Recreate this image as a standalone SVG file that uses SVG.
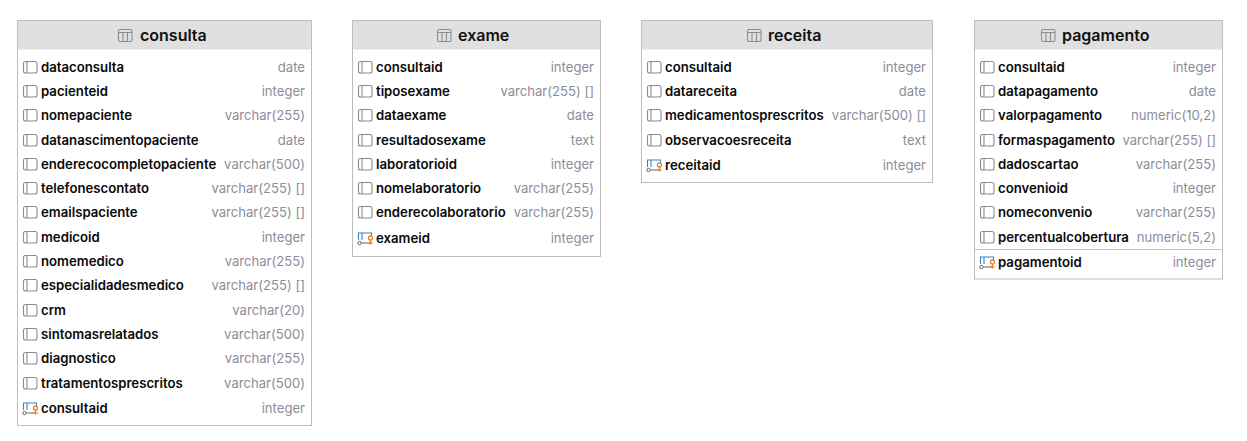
<svg xmlns="http://www.w3.org/2000/svg" width="1247" height="441" viewBox="0 0 1247 441">
<style>
text{font-family:Inter,"Liberation Sans",sans-serif}
.box{fill:#fff;stroke:#bdbdbd;stroke-width:1}
.head{fill:#e0e0e0}
.title{font-size:16px;font-weight:600;fill:#111;}
.n{font-size:13.2px;font-weight:600;fill:#0a0a0a}
.t{font-size:13.1px;font-weight:400;fill:#8d8d99;text-anchor:end}
.ic{fill:none;stroke:#878c95;stroke-width:1.1}
.blue{fill:none;stroke:#3b82c4;stroke-width:1.1}
.dark{fill:none;stroke:#666;stroke-width:1}
.or{fill:none;stroke:#e8832a;stroke-width:1.3}
.div{stroke:#c4c4c4;stroke-width:1}
</style>
<defs>
<g id="col"><rect class="ic" x="-16.500" y="-5.500" width="13.500" height="11.500" rx="2"/><path class="ic" d="M-13-5.500v11.500"/></g>
<g id="pk"><path class="blue" d="M-16.500 2V-5H-3.500V-2M-13-5V2"/><circle class="dark" cx="-15.500" cy="5" r="1.700"/><path class="dark" d="M-13.500 5H-6"/><circle class="or" cx="-4.500" cy="0" r="2"/><path class="or" d="M-4.500 2V6.500M-4.500 5H-2.500M-7 5H-4.500"/></g>
<g id="tb"><rect class="ic" x="-6.500" y="-5.500" width="13.500" height="12" rx="1.500"/><path class="ic" d="M-6.500-2.500H7M-2-2.500V6.500M2.500-2.500V6.500"/></g>
</defs>
<g id="connectors"/>

<g id="consulta">
<rect class="box" x="17.500" y="20.500" width="294" height="405"/><rect class="head" x="18" y="21" width="293" height="28.500"/>
<use href="#tb" x="125" y="35"/><text class="title" x="140" y="40.500">consulta</text>
<use href="#col" x="40" y="67"/><text class="n" x="41" y="71.500">dataconsulta</text><text class="t" x="305" y="71.500">date</text>
<use href="#col" x="40" y="91"/><text class="n" x="41" y="95.500">pacienteid</text><text class="t" x="305" y="95.500">integer</text>
<use href="#col" x="40" y="115"/><text class="n" x="41" y="119.500">nomepaciente</text><text class="t" x="305" y="119.500">varchar(255)</text>
<use href="#col" x="40" y="140"/><text class="n" x="41" y="144.500">datanascimentopaciente</text><text class="t" x="305" y="144.500">date</text>
<use href="#col" x="40" y="164"/><text class="n" x="41" y="168.500">enderecocompletopaciente</text><text class="t" x="305" y="168.500">varchar(500)</text>
<use href="#col" x="40" y="188"/><text class="n" x="41" y="192.500">telefonescontato</text><text class="t" x="305" y="192.500">varchar(255) []</text>
<use href="#col" x="40" y="212"/><text class="n" x="41" y="216.500">emailspaciente</text><text class="t" x="305" y="216.500">varchar(255) []</text>
<use href="#col" x="40" y="237"/><text class="n" x="41" y="241.500">medicoid</text><text class="t" x="305" y="241.500">integer</text>
<use href="#col" x="40" y="261"/><text class="n" x="41" y="265.500">nomemedico</text><text class="t" x="305" y="265.500">varchar(255)</text>
<use href="#col" x="40" y="285"/><text class="n" x="41" y="289.500">especialidadesmedico</text><text class="t" x="305" y="289.500">varchar(255) []</text>
<use href="#col" x="40" y="310"/><text class="n" x="41" y="314.500">crm</text><text class="t" x="305" y="314.500">varchar(20)</text>
<use href="#col" x="40" y="334"/><text class="n" x="41" y="338.500">sintomasrelatados</text><text class="t" x="305" y="338.500">varchar(500)</text>
<use href="#col" x="40" y="358"/><text class="n" x="41" y="362.500">diagnostico</text><text class="t" x="305" y="362.500">varchar(255)</text>
<use href="#col" x="40" y="383"/><text class="n" x="41" y="387.500">tratamentosprescritos</text><text class="t" x="305" y="387.500">varchar(500)</text>
<use href="#pk" x="40" y="408"/><text class="n" x="41" y="412.500">consultaid</text><text class="t" x="305" y="412.500">integer</text>
</g>

<g id="exame">
<rect class="box" x="352.500" y="20.500" width="248" height="236"/><rect class="head" x="353" y="21" width="247" height="28.500"/>
<use href="#tb" x="444" y="35"/><text class="title" x="458" y="40.500">exame</text>
<use href="#col" x="375" y="67"/><text class="n" x="376" y="71.500">consultaid</text><text class="t" x="594" y="71.500">integer</text>
<use href="#col" x="375" y="91"/><text class="n" x="376" y="95.500">tiposexame</text><text class="t" x="594" y="95.500">varchar(255) []</text>
<use href="#col" x="375" y="115"/><text class="n" x="376" y="119.500">dataexame</text><text class="t" x="594" y="119.500">date</text>
<use href="#col" x="375" y="140"/><text class="n" x="376" y="144.500">resultadosexame</text><text class="t" x="594" y="144.500">text</text>
<use href="#col" x="375" y="164"/><text class="n" x="376" y="168.500">laboratorioid</text><text class="t" x="594" y="168.500">integer</text>
<use href="#col" x="375" y="188"/><text class="n" x="376" y="192.500">nomelaboratorio</text><text class="t" x="594" y="192.500">varchar(255)</text>
<use href="#col" x="375" y="212"/><text class="n" x="376" y="216.500">enderecolaboratorio</text><text class="t" x="594" y="216.500">varchar(255)</text>
<use href="#pk" x="375" y="238"/><text class="n" x="376" y="242.500">exameid</text><text class="t" x="594" y="242.500">integer</text>
</g>

<g id="receita">
<rect class="box" x="641.500" y="20.500" width="291" height="162"/><rect class="head" x="642" y="21" width="290" height="28.500"/>
<use href="#tb" x="754" y="35"/><text class="title" x="768" y="40.500">receita</text>
<use href="#col" x="664" y="67"/><text class="n" x="665" y="71.500">consultaid</text><text class="t" x="926" y="71.500">integer</text>
<use href="#col" x="664" y="91"/><text class="n" x="665" y="95.500">datareceita</text><text class="t" x="926" y="95.500">date</text>
<use href="#col" x="664" y="115"/><text class="n" x="665" y="119.500">medicamentosprescritos</text><text class="t" x="926" y="119.500">varchar(500) []</text>
<use href="#col" x="664" y="140"/><text class="n" x="665" y="144.500">observacoesreceita</text><text class="t" x="926" y="144.500">text</text>
<use href="#pk" x="664" y="165"/><text class="n" x="665" y="169.500">receitaid</text><text class="t" x="926" y="169.500">integer</text>
</g>

<g id="pagamento">
<rect class="box" x="974.500" y="20.500" width="248" height="258.500"/><rect class="head" x="975" y="21" width="247" height="28.500"/>
<use href="#tb" x="1048" y="35"/><text class="title" x="1062" y="40.500">pagamento</text>
<use href="#col" x="997" y="67"/><text class="n" x="998" y="71.500">consultaid</text><text class="t" x="1216" y="71.500">integer</text>
<use href="#col" x="997" y="91"/><text class="n" x="998" y="95.500">datapagamento</text><text class="t" x="1216" y="95.500">date</text>
<use href="#col" x="997" y="115"/><text class="n" x="998" y="119.500">valorpagamento</text><text class="t" x="1216" y="119.500">numeric(10,2)</text>
<use href="#col" x="997" y="140"/><text class="n" x="998" y="144.500">formaspagamento</text><text class="t" x="1216" y="144.500">varchar(255) []</text>
<use href="#col" x="997" y="164"/><text class="n" x="998" y="168.500">dadoscartao</text><text class="t" x="1216" y="168.500">varchar(255)</text>
<use href="#col" x="997" y="188"/><text class="n" x="998" y="192.500">convenioid</text><text class="t" x="1216" y="192.500">integer</text>
<use href="#col" x="997" y="212"/><text class="n" x="998" y="216.500">nomeconvenio</text><text class="t" x="1216" y="216.500">varchar(255)</text>
<use href="#col" x="997" y="237"/><text class="n" x="998" y="241.500">percentualcobertura</text><text class="t" x="1216" y="241.500">numeric(5,2)</text>
<path class="div" d="M975 249.500H1222"/>
<use href="#pk" x="997" y="262"/><text class="n" x="998" y="266.500">pagamentoid</text><text class="t" x="1216" y="266.500">integer</text>
</g>
</svg>
